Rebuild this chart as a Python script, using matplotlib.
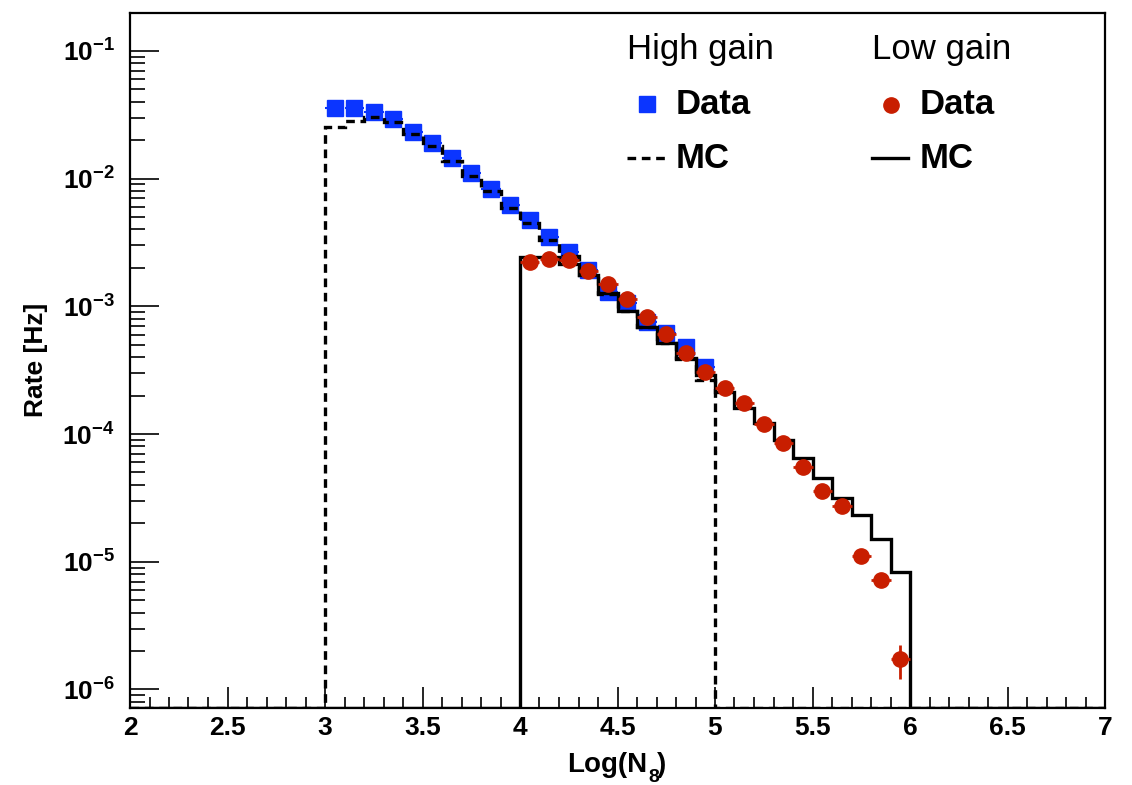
import numpy as np
import matplotlib
matplotlib.use("Agg")
import matplotlib.pyplot as plt
from matplotlib.lines import Line2D
from matplotlib.ticker import FixedLocator, NullFormatter

# ---------------- data ----------------
hg_centers = [3.05, 3.15, 3.25, 3.35, 3.45, 3.55, 3.65, 3.75, 3.85, 3.95,
              4.05, 4.15, 4.25, 4.35, 4.45, 4.55, 4.65, 4.75, 4.85, 4.95]
hg_rate = [0.0360, 0.0360, 0.03347, 0.02918, 0.02333, 0.01894, 0.01444, 0.01102,
           0.00831, 0.00617, 0.00471, 0.00350, 0.00267, 0.00193, 0.00130,
           0.001057, 0.000759, 0.000616, 0.000484, 0.000337]

lg_centers = [4.05, 4.15, 4.25, 4.35, 4.45, 4.55, 4.65, 4.75, 4.85, 4.95,
              5.05, 5.15, 5.25, 5.35, 5.45, 5.55, 5.65, 5.75, 5.85, 5.95]
lg_rate = [0.002214, 0.002351, 0.002309, 0.001904, 0.001497, 0.001149, 0.000821,
           0.000611, 0.000434, 0.000305, 0.0002276, 0.0001742, 0.0001200,
           8.47e-5, 5.50e-5, 3.58e-5, 2.74e-5, 1.110e-5, 7.20e-6, 1.724e-6]
lg_yerr = [0, 0, 0, 0, 0, 0, 0, 0, 0, 0,
           0, 0, 0, 0, 2e-6, 1.5e-6, 1.2e-6, 1.0e-6, 0.8e-6, 0.52e-6]

# MC histograms (bin width 0.1)
hg_mc_lo = 3.0
hg_mc = [0.02554, 0.02845, 0.03041, 0.02780, 0.02239, 0.01804, 0.01376, 0.01050,
         0.00794, 0.00590, 0.00450, 0.00331, 0.00248, 0.001762, 0.00125,
         0.000920, 0.000690, 0.000516, 0.000389, 0.000265]
lg_mc_lo = 4.0
lg_mc = [0.002424, 0.002424, 0.002148, 0.001762, 0.001273, 0.000925, 0.000693,
         0.000520, 0.000392, 0.000290, 0.0002148, 0.0001592, 0.0001228, 8.99e-5,
         6.53e-5, 4.51e-5, 3.14e-5, 2.33e-5, 1.51e-5, 8.27e-6]

x_ticks = [2, 2.5, 3, 3.5, 4, 4.5, 5, 5.5, 6, 6.5, 7]
x_ticklabels = ["2", "2.5", "3", "3.5", "4", "4.5", "5", "5.5", "6", "6.5", "7"]
y_exps = [-6, -5, -4, -3, -2, -1]

# ---------------- style ----------------
plt.rcParams['font.family'] = ['Liberation Sans', 'DejaVu Sans']
plt.rcParams['mathtext.fontset'] = 'custom'
plt.rcParams['mathtext.rm'] = 'Liberation Sans:bold'
plt.rcParams['mathtext.it'] = 'Liberation Sans:bold'
plt.rcParams['mathtext.bf'] = 'Liberation Sans:bold'
plt.rcParams['mathtext.sf'] = 'Liberation Sans:bold'

W, H = 1132, 785
fig = plt.figure(figsize=(W / 100, H / 100), dpi=100)
L, R, T, B = 130, 1105, 13, 708
ax = fig.add_axes([L / W, 1 - B / H, (R - L) / W, (B - T) / H])

YMIN, YMAX = 7.16e-7, 0.198
XMIN, XMAX = 2.0, 7.0
ax.set_xlim(XMIN, XMAX)
ax.set_yscale('log')
ax.set_ylim(YMIN, YMAX)

BLUE = '#0b35ff'
RED = '#c81e00'
DASH = (0, (2.6, 1.7))
LW = 2.4

# histograms over full range (zeros drawn at frame bottom)
edges = np.round(np.arange(XMIN, XMAX + 0.05, 0.1), 2)
nb = len(edges) - 1

def full_hist(lo, vals):
    h = np.zeros(nb)
    i0 = int(round((lo - XMIN) / 0.1))
    h[i0:i0 + len(vals)] = vals
    return np.clip(h, YMIN, None)

# blue data first
ax.errorbar(hg_centers, hg_rate, xerr=0.05, fmt='s', color=BLUE, ms=12,
            mec=BLUE, ecolor=BLUE, elinewidth=1.5, capsize=0, zorder=3)

ax.stairs(full_hist(hg_mc_lo, hg_mc), edges, baseline=None, color='black',
          lw=LW, linestyle=DASH, zorder=4)
ax.stairs(full_hist(lg_mc_lo, lg_mc), edges, baseline=None, color='black',
          lw=LW, linestyle='-', zorder=4)

ax.errorbar(lg_centers, lg_rate, xerr=0.05, yerr=lg_yerr, fmt='o', color=RED,
            ms=11, mec=RED, ecolor=RED, elinewidth=2, capsize=0, zorder=5)

# ---------------- axes ----------------
for s in ['left', 'bottom', 'top', 'right']:
    ax.spines[s].set_linewidth(1.6)
    ax.spines[s].set_zorder(6)

ax.set_xticks(x_ticks)
ax.set_xticklabels(x_ticklabels, fontsize=19, fontweight='bold')
ax.xaxis.set_minor_locator(FixedLocator(np.round(np.arange(2.0, 7.01, 0.1), 2)))
ax.tick_params(axis='x', which='major', direction='in', length=15, width=1.2,
               pad=6, top=False)
ax.tick_params(axis='x', which='minor', direction='in', length=8, width=1.2,
               top=False)

ax.yaxis.set_major_locator(FixedLocator([10.0 ** e for e in y_exps]))
ax.set_yticklabels([r'$10^{%d}$' % e for e in y_exps], fontsize=19)
minors = [m * 10.0 ** e for e in range(-7, 0) for m in range(2, 10)]
ax.yaxis.set_minor_locator(FixedLocator(minors))
ax.yaxis.set_minor_formatter(NullFormatter())
ax.tick_params(axis='y', which='major', direction='in', length=21, width=1.2,
               pad=11, right=False)
ax.tick_params(axis='y', which='minor', direction='in', length=11, width=1.2,
               right=False)

def px(x, y):
    return (x / W, 1 - y / H)

fig.text(*px(36, 360), 'Rate [Hz]', rotation=90, ha='center', va='center',
         fontsize=19, fontweight='bold')
# x title, ROOT style with lowered subscript
fig.text(*px(567, 772), 'Log(N', ha='left', va='baseline', fontsize=20,
         fontweight='bold')
fig.text(*px(648, 782), '8', ha='left', va='baseline', fontsize=14,
         fontweight='bold')
fig.text(*px(657, 772), ')', ha='left', va='baseline', fontsize=20,
         fontweight='bold')

# ---------------- legend ----------------
fig.text(*px(700, 50), 'High gain', ha='center', va='center', fontsize=25)
fig.text(*px(942, 50), 'Low gain', ha='center', va='center', fontsize=25)
fig.text(*px(676, 104), 'Data', ha='left', va='center', fontsize=25,
         fontweight='bold')
fig.text(*px(920, 104), 'Data', ha='left', va='center', fontsize=25,
         fontweight='bold')
fig.text(*px(676, 158), 'MC', ha='left', va='center', fontsize=25,
         fontweight='bold')
fig.text(*px(920, 158), 'MC', ha='left', va='center', fontsize=25,
         fontweight='bold')

fig.add_artist(Line2D([px(647, 104)[0]], [px(647, 104)[1]], marker='s', ms=11,
                      color=BLUE, transform=fig.transFigure))
fig.add_artist(Line2D([px(891, 105)[0]], [px(891, 105)[1]], marker='o', ms=11,
                      color=RED, transform=fig.transFigure))
fig.add_artist(Line2D([px(627, 158)[0], px(667, 158)[0]],
                      [px(627, 158)[1], px(667, 158)[1]], color='black', lw=LW,
                      linestyle=DASH, transform=fig.transFigure))
fig.add_artist(Line2D([px(872, 158)[0], px(908, 158)[0]],
                      [px(872, 158)[1], px(908, 158)[1]], color='black', lw=LW,
                      transform=fig.transFigure))

fig.savefig('out.png', dpi=100)
